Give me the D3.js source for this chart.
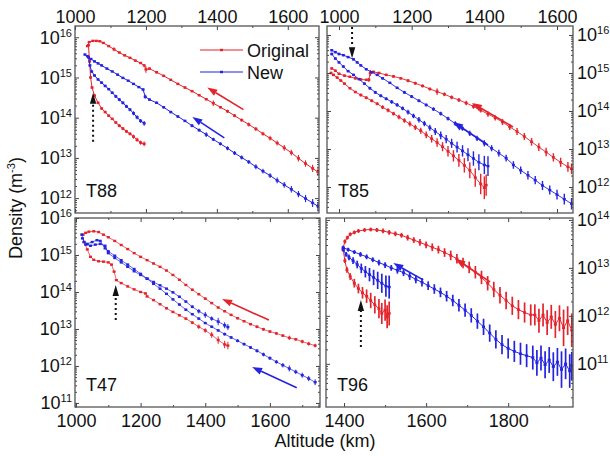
<!DOCTYPE html>
<html><head><meta charset="utf-8">
<script src="https://cdn.jsdelivr.net/npm/d3@7"></script>
<style>
body{margin:0;background:#fff}
svg{display:block}
text{font-family:Arial,"Liberation Sans",sans-serif;fill:#111}
</style>
</head><body>
<svg id="c" width="610" height="456"></svg>
<script>
// ---- DATA: each point = [altitude (km), log10 density (m^-3), error (decades)] ----
// T88
const t88Orig1 = [[1035,15.78,.02],[1040,15.88,.02],[1050,15.91,.02],[1060,15.91,.02],[1070,15.90,.02],[1080,15.86,.02],[1095,15.78,.02],[1110,15.70,.05],[1125,15.62,.02],[1140,15.55,.02],[1155,15.49,.02],[1170,15.42,.02],[1185,15.36,.02],[1195,15.30,.03],[1200,15.20,.08],[1210,15.22,.03],[1230,15.13,.03],[1250,15.04,.03],[1270,14.94,.03],[1290,14.84,.03],[1310,14.75,.03],[1330,14.66,.03],[1350,14.56,.03],[1370,14.46,.03],[1390,14.36,.07],[1410,14.26,.03],[1430,14.16,.04],[1450,14.05,.04],[1470,13.94,.04],[1490,13.83,.05],[1510,13.72,.05],[1530,13.60,.05],[1550,13.49,.06],[1570,13.37,.06],[1590,13.25,.07],[1610,13.13,.07],[1630,12.99,.08],[1650,12.86,.08],[1670,12.74,.09],[1685,12.65,.1]];
const t88Orig2 = [[1038,15.80,.02],[1041,15.40,.02],[1044,15.00,.03],[1048,14.75,.03],[1055,14.55,.03],[1065,14.37,.03],[1075,14.23,.03],[1085,14.14,.03],[1095,14.05,.03],[1105,13.97,.03],[1115,13.88,.04],[1125,13.80,.04],[1135,13.73,.04],[1145,13.66,.04],[1155,13.60,.04],[1165,13.53,.05],[1175,13.45,.05],[1185,13.38,.05],[1195,13.35,.06]];
const t88New1 = [[1028,15.57,.02],[1035,15.53,.02],[1045,15.46,.02],[1055,15.40,.02],[1065,15.35,.02],[1075,15.30,.02],[1090,15.22,.02],[1105,15.15,.02],[1120,15.07,.02],[1135,14.99,.02],[1150,14.92,.02],[1165,14.84,.02],[1180,14.76,.02],[1192,14.70,.03],[1198,14.52,.05],[1210,14.45,.03],[1230,14.37,.03],[1250,14.26,.03],[1270,14.14,.03],[1290,14.03,.03],[1310,13.92,.03],[1330,13.80,.04],[1350,13.69,.04],[1370,13.58,.06],[1390,13.46,.04],[1410,13.35,.04],[1430,13.24,.05],[1450,13.12,.05],[1470,13.01,.05],[1490,12.90,.05],[1510,12.78,.06],[1530,12.67,.06],[1550,12.56,.06],[1570,12.44,.07],[1590,12.33,.07],[1610,12.22,.08],[1630,12.10,.08],[1650,11.99,.09],[1670,11.88,.1],[1685,11.80,.1]];
const t88New2 = [[1038,15.50,.02],[1042,15.30,.02],[1047,15.15,.03],[1055,15.05,.03],[1065,14.95,.03],[1075,14.87,.03],[1085,14.79,.03],[1095,14.71,.03],[1105,14.62,.03],[1115,14.53,.04],[1125,14.45,.04],[1135,14.37,.04],[1145,14.28,.04],[1155,14.20,.04],[1165,14.11,.05],[1175,14.01,.05],[1185,13.92,.05],[1195,13.86,.06]];
// T85
const t85Orig1 = [[980,15.12,.03],[990,15.06,.03],[1000,14.98,.03],[1015,14.93,.03],[1030,14.90,.03],[1045,14.86,.03],[1060,14.83,.03],[1075,14.82,.03],[1082,14.82,.05],[1086,15.00,.08],[1095,15.03,.03],[1110,15.00,.03],[1130,14.95,.03],[1150,14.91,.03],[1170,14.86,.03],[1190,14.80,.04],[1210,14.73,.04],[1230,14.66,.04],[1250,14.58,.04],[1270,14.51,.08],[1290,14.44,.05],[1310,14.36,.05],[1330,14.29,.05],[1350,14.21,.06],[1370,14.12,.06],[1390,14.02,.06],[1410,13.92,.07],[1430,13.82,.07],[1450,13.71,.08],[1470,13.58,.08],[1490,13.46,.09],[1510,13.33,.09],[1530,13.19,.1],[1550,13.05,.1],[1570,12.92,.11],[1590,12.78,.11],[1610,12.65,.12],[1630,12.53,.13],[1640,12.48,.14]];
const t85Orig2 = [[978,15.00,.03],[985,14.95,.03],[995,14.88,.03],[1005,14.80,.03],[1015,14.72,.03],[1030,14.60,.03],[1045,14.50,.03],[1060,14.42,.04],[1075,14.35,.04],[1090,14.27,.04],[1105,14.19,.04],[1120,14.10,.05],[1135,14.02,.05],[1150,13.93,.05],[1165,13.84,.06],[1180,13.75,.06],[1195,13.66,.07],[1210,13.57,.07],[1225,13.48,.08],[1240,13.37,.09],[1255,13.27,.1],[1270,13.17,.11],[1285,13.06,.12],[1300,12.94,.14],[1315,12.82,.15],[1330,12.70,.17],[1345,12.57,.19],[1360,12.44,.21],[1375,12.25,.24],[1390,12.08,.27],[1400,11.98,.3],[1405,12.05,.28]];
const t85New1 = [[980,15.60,.03],[990,15.55,.03],[1000,15.50,.03],[1012,15.47,.03],[1025,15.42,.03],[1040,15.36,.03],[1050,15.28,.03],[1060,15.20,.03],[1075,15.10,.03],[1090,15.02,.03],[1105,14.95,.03],[1120,14.86,.03],[1140,14.74,.03],[1160,14.61,.03],[1180,14.49,.04],[1200,14.38,.04],[1220,14.27,.04],[1240,14.16,.04],[1260,14.05,.05],[1280,13.93,.05],[1300,13.80,.05],[1320,13.67,.06],[1340,13.54,.06],[1360,13.41,.07],[1380,13.28,.07],[1400,13.15,.08],[1420,13.02,.08],[1440,12.89,.09],[1460,12.76,.09],[1480,12.58,.1],[1500,12.44,.1],[1520,12.31,.11],[1540,12.18,.11],[1560,12.04,.12],[1580,11.92,.12],[1600,11.80,.13],[1620,11.68,.14],[1640,11.56,.15]];
const t85New2 = [[980,15.50,.03],[990,15.38,.03],[1000,15.28,.03],[1012,15.17,.03],[1025,15.05,.03],[1040,14.95,.03],[1055,14.84,.03],[1070,14.72,.03],[1085,14.60,.04],[1100,14.49,.04],[1115,14.40,.04],[1130,14.32,.04],[1145,14.24,.05],[1160,14.16,.05],[1175,14.07,.05],[1190,13.97,.06],[1205,13.87,.06],[1220,13.77,.07],[1235,13.67,.07],[1250,13.56,.08],[1265,13.46,.09],[1280,13.36,.1],[1295,13.26,.11],[1310,13.15,.12],[1325,13.05,.14],[1340,12.95,.15],[1355,12.85,.17],[1370,12.75,.19],[1385,12.65,.21],[1400,12.58,.24],[1410,12.55,.26]];
// T47
const t47Orig1 = [[1022,15.55,.02],[1030,15.60,.02],[1040,15.63,.02],[1055,15.64,.02],[1070,15.62,.02],[1085,15.55,.02],[1100,15.48,.02],[1120,15.38,.02],[1140,15.27,.02],[1160,15.16,.02],[1180,15.05,.02],[1200,14.95,.02],[1220,14.86,.02],[1240,14.77,.02],[1260,14.68,.02],[1280,14.58,.02],[1300,14.46,.02],[1320,14.33,.02],[1340,14.19,.02],[1360,14.06,.03],[1380,13.94,.03],[1400,13.82,.03],[1420,13.70,.03],[1440,13.58,.03],[1460,13.48,.03],[1480,13.38,.03],[1500,13.29,.03],[1520,13.21,.03],[1540,13.13,.03],[1560,13.06,.04],[1580,12.99,.04],[1600,12.93,.04],[1620,12.88,.04],[1640,12.82,.04],[1660,12.76,.06],[1680,12.72,.04],[1700,12.66,.05],[1720,12.60,.05],[1740,12.55,.05]];
const t47Orig2 = [[1025,15.35,.02],[1035,15.15,.02],[1045,14.95,.02],[1055,14.87,.02],[1070,14.83,.02],[1085,14.82,.02],[1100,14.80,.02],[1110,14.74,.02],[1118,14.55,.02],[1125,14.32,.02],[1140,14.24,.02],[1160,14.15,.02],[1180,14.07,.02],[1200,14.00,.02],[1215,13.96,.02],[1220,13.88,.02],[1240,13.78,.02],[1260,13.67,.03],[1280,13.56,.03],[1300,13.46,.03],[1320,13.37,.03],[1340,13.28,.03],[1360,13.17,.04],[1380,13.06,.06],[1400,12.96,.06],[1420,12.84,.08],[1440,12.70,.1],[1460,12.58,.1],[1470,12.55,.1]];
const t47New1 = [[1018,15.55,.02],[1025,15.35,.02],[1035,15.30,.02],[1050,15.35,.02],[1065,15.40,.02],[1075,15.38,.02],[1090,15.18,.02],[1100,15.10,.02],[1120,14.98,.02],[1140,14.86,.02],[1160,14.74,.02],[1180,14.62,.02],[1200,14.49,.02],[1220,14.36,.02],[1240,14.22,.02],[1260,14.09,.02],[1280,13.95,.02],[1300,13.80,.03],[1320,13.66,.03],[1340,13.52,.03],[1360,13.40,.03],[1380,13.28,.03],[1400,13.16,.03],[1420,13.06,.03],[1440,12.96,.03],[1460,12.86,.04],[1480,12.77,.04],[1500,12.68,.04],[1520,12.59,.04],[1540,12.50,.04],[1560,12.41,.05],[1580,12.31,.05],[1600,12.21,.05],[1620,12.11,.05],[1640,12.02,.06],[1660,11.93,.08],[1680,11.84,.06],[1700,11.75,.07],[1720,11.66,.07],[1740,11.56,.08]];
const t47New2 = [[1020,15.45,.02],[1030,15.28,.02],[1045,15.25,.02],[1060,15.28,.02],[1075,15.30,.02],[1090,15.25,.02],[1100,15.05,.02],[1120,14.92,.02],[1140,14.80,.02],[1160,14.68,.02],[1180,14.56,.02],[1200,14.46,.02],[1220,14.36,.02],[1240,14.27,.02],[1260,14.18,.02],[1280,14.09,.02],[1300,13.99,.03],[1320,13.87,.03],[1340,13.74,.03],[1360,13.60,.04],[1380,13.48,.06],[1400,13.38,.08],[1420,13.28,.06],[1440,13.20,.1],[1460,13.10,.08],[1470,13.05,.08]];
// T96
const t96Orig1 = [[1398,13.42,.04],[1402,13.55,.04],[1408,13.63,.04],[1415,13.70,.04],[1425,13.74,.04],[1435,13.77,.04],[1450,13.79,.04],[1465,13.80,.04],[1480,13.79,.04],[1495,13.77,.05],[1510,13.74,.05],[1525,13.71,.05],[1540,13.68,.05],[1555,13.63,.06],[1570,13.58,.06],[1585,13.53,.07],[1600,13.48,.07],[1615,13.43,.08],[1630,13.38,.08],[1645,13.32,.09],[1660,13.26,.1],[1675,13.19,.1],[1690,13.10,.11],[1705,13.01,.12],[1720,12.91,.13],[1735,12.80,.14],[1750,12.68,.15],[1765,12.55,.16],[1780,12.43,.17],[1795,12.32,.18],[1810,12.21,.19],[1825,12.13,.2],[1840,12.07,.21],[1855,12.02,.22],[1865,12.02,.22],[1875,11.90,.25],[1885,12.02,.24],[1895,11.86,.26],[1905,11.98,.25],[1915,11.82,.28],[1925,11.95,.27],[1935,11.75,.38],[1945,11.90,.3],[1955,11.70,.35]];
const t96Orig2 = [[1398,13.38,.04],[1402,13.15,.05],[1407,12.96,.06],[1415,12.82,.07],[1425,12.68,.09],[1435,12.57,.1],[1445,12.48,.12],[1455,12.41,.14],[1465,12.32,.16],[1475,12.23,.18],[1485,12.15,.2],[1492,12.05,.22],[1500,12.12,.22],[1505,11.98,.24],[1510,12.05,.25]];
const t96New1 = [[1398,13.42,.04],[1410,13.38,.04],[1425,13.33,.04],[1440,13.28,.05],[1455,13.23,.05],[1470,13.17,.05],[1485,13.11,.06],[1500,13.06,.06],[1515,13.00,.06],[1530,12.95,.07],[1545,12.90,.07],[1560,12.83,.08],[1575,12.76,.08],[1590,12.70,.09],[1605,12.63,.09],[1620,12.56,.1],[1635,12.49,.1],[1650,12.41,.11],[1665,12.32,.12],[1680,12.22,.13],[1695,12.12,.14],[1710,12.01,.15],[1725,11.89,.16],[1740,11.77,.17],[1755,11.64,.18],[1770,11.51,.19],[1785,11.40,.2],[1800,11.32,.21],[1815,11.26,.22],[1830,11.21,.23],[1845,11.17,.24],[1860,11.13,.25],[1870,11.02,.27],[1880,11.12,.26],[1890,10.98,.28],[1900,11.08,.27],[1910,10.94,.3],[1920,11.04,.29],[1930,10.88,.38],[1940,11.00,.32],[1950,10.85,.35],[1955,10.95,.3]];
const t96New2 = [[1398,13.38,.04],[1405,13.28,.05],[1412,13.22,.06],[1422,13.15,.07],[1432,13.07,.08],[1442,12.99,.1],[1452,12.92,.12],[1462,12.86,.14],[1472,12.80,.16],[1482,12.74,.18],[1492,12.68,.2],[1502,12.62,.22],[1510,12.60,.24]];

const panelNames = ["T88","T85","T47","T96"];
const seriesNames = ["Original","New"];
// direction arrows [x1, log y1, x2, log y2] (tail -> head) and closest-approach markers [x, log y tail, log y tip]
const t88Arrows = {red:[1475,14.20,1373,14.75], blue:[1421,13.50,1331,14.02], ca:[1051,13.40,14.62]};
const t85Arrows = {red:[1479,13.58,1366,14.21], blue:[1410,13.11,1314,13.71], ca:[1036,16.21,15.39]};
const t47Arrows = {red:[1597,13.24,1452,13.81], blue:[1683,11.41,1545,11.97], ca:[1123,13.24,14.19]};
const t96Arrows = {red:[1756,12.71,1671,13.19], blue:[1593,12.75,1520,13.10], ca:[1441,11.35,12.33]};

// ---- LAYOUT ----
const RED = "#e4232b", BLUE = "#2323e0";
const panels = [
  {name:panelNames[0], x0:75,  x1:319, y0:26,  y1:213, xDom:[1000,1688], yDom:[11.63,16.28], xSide:"top",    ySide:"left",
   orig:[t88Orig1,t88Orig2], neu:[t88New1,t88New2], arrows:t88Arrows, lw:1, ew:1.1},
  {name:panelNames[1], x0:327, x1:573, y0:26,  y1:213, xDom:[967,1644],  yDom:[11.316,16.237], xSide:"top", ySide:"right",
   orig:[t85Orig1,t85Orig2], neu:[t85New1,t85New2], arrows:t85Arrows, lw:0.9, ew:1.4},
  {name:panelNames[2], x0:75,  x1:320, y0:218, y1:407, xDom:[997,1755],  yDom:[10.89,16.0], xSide:"bottom",  ySide:"left",
   orig:[t47Orig1,t47Orig2], neu:[t47New1,t47New2], arrows:t47Arrows, lw:0.7, ew:1},
  {name:panelNames[3], x0:326, x1:573, y0:218, y1:407, xDom:[1356,1958], yDom:[10.1,14.04], xSide:"bottom",  ySide:"right",
   orig:[t96Orig1,t96Orig2], neu:[t96New1,t96New2], arrows:t96Arrows, lw:1, ew:1.7}
];

const svg = d3.select("#c");
const defs = svg.append("defs");

function supLabel(sel){
  sel.each(function(d){
    const t = d3.select(this);
    const e = Math.round(Math.log10(d));
    t.text(null);
    t.append("tspan").text("10");
    t.append("tspan").attr("font-size",11).attr("dy","-0.62em").text(e);
  });
}

panels.forEach((p,i) => {
  const x = d3.scaleLinear().domain(p.xDom).range([p.x0,p.x1]);
  const y = d3.scaleLog().domain([10**p.yDom[0],10**p.yDom[1]]).range([p.y1,p.y0]);
  const g = svg.append("g");
  const cid = "clip"+i;
  defs.append("clipPath").attr("id",cid).append("rect")
    .attr("x",p.x0).attr("y",p.y0).attr("width",p.x1-p.x0).attr("height",p.y1-p.y0);
  const plot = g.append("g").attr("clip-path",`url(#${cid})`);
  const line = d3.line().x(d=>x(d[0])).y(d=>y(10**d[1]));

  const groups = [[p.orig,RED],[p.neu,BLUE]];
  groups.forEach(([arr,col]) => {
    arr.forEach(s => {
      plot.append("path").attr("d",line(s)).attr("fill","none").attr("stroke",col).attr("stroke-width",p.lw);
      plot.selectAll(null).data(s).join("line")
        .attr("x1",d=>x(d[0])).attr("x2",d=>x(d[0]))
        .attr("y1",d=>y(10**(d[1]-d[2]))).attr("y2",d=>y(10**(d[1]+d[2])))
        .attr("stroke",col).attr("stroke-width",p.ew);
      plot.selectAll(null).data(s).join("rect")
        .attr("x",d=>x(d[0])-1.5).attr("y",d=>y(10**d[1])-1.2)
        .attr("width",3).attr("height",2.4).attr("fill",col);
    });
  });

  // direction arrows
  const A = p.arrows;
  [[A.red,RED],[A.blue,BLUE]].forEach(([a,col]) => {
    const X1=x(a[0]),Y1=y(10**a[1]),X2=x(a[2]),Y2=y(10**a[3]);
    const ang=Math.atan2(Y2-Y1,X2-X1), L=10, W=3.5;
    const bx=X2-L*Math.cos(ang), by=Y2-L*Math.sin(ang);
    g.append("line").attr("x1",X1).attr("y1",Y1).attr("x2",bx).attr("y2",by).attr("stroke",col).attr("stroke-width",1.6);
    g.append("path").attr("fill",col).attr("d",
      `M${X2},${Y2}L${bx+W*Math.sin(ang)},${by-W*Math.cos(ang)}L${bx-W*Math.sin(ang)},${by+W*Math.cos(ang)}Z`);
  });
  // closest-approach dotted arrow
  {
    const cx=x(A.ca[0]), ya=y(10**A.ca[1]), yb=y(10**A.ca[2]);
    const dir = yb<ya ? -1 : 1, L=11, W=3.2;
    const base = yb - dir*L;
    g.append("line").attr("x1",cx).attr("x2",cx).attr("y1",ya).attr("y2",base)
      .attr("stroke","#111").attr("stroke-width",2).attr("stroke-dasharray","2,3");
    g.append("path").attr("fill","#111").attr("d",`M${cx},${yb}L${cx-W},${base}L${cx+W},${base}Z`);
  }

  // axes (inward ticks)
  const xMaj=[], xMin=[];
  for(let v=Math.ceil(p.xDom[0]/100)*100; v<=p.xDom[1]; v+=100){ (v%200===0?xMaj:xMin).push(v); }
  const yMaj=[], yMin=[];
  for(let n=Math.floor(p.yDom[0]); n<=Math.ceil(p.yDom[1]); n++){
    if(n>=p.yDom[0]-1e-9 && n<=p.yDom[1]+1e-9) yMaj.push(10**n);
    for(let k=2;k<10;k++){ const lv=n+Math.log10(k); if(lv>p.yDom[0]&&lv<p.yDom[1]) yMin.push(k*10**n); }
  }
  const ax = g.append("g");
  const mk = (gen, pos, vals, size, fmt) => {
    const a = ax.append("g").attr("transform",pos)
      .call(gen.tickValues(vals).tickSizeInner(size).tickSizeOuter(0).tickFormat(fmt));
    a.attr("font-family","Arial, 'Liberation Sans', sans-serif");
    a.select(".domain").remove();
    a.selectAll(".tick line").attr("stroke","#444").attr("stroke-width",1);
    return a;
  };
  const none = () => "";
  const topG = mk(d3.axisTop(x).tickPadding(3.5), `translate(0,${p.y0})`, xMaj, -4, p.xSide==="top"?d3.format("d"):none);
  mk(d3.axisTop(x), `translate(0,${p.y0})`, xMin, -2, none);
  const botG = mk(d3.axisBottom(x).tickPadding(7), `translate(0,${p.y1})`, xMaj, -4, p.xSide==="bottom"?d3.format("d"):none);
  mk(d3.axisBottom(x), `translate(0,${p.y1})`, xMin, -2, none);
  const leftG = mk(d3.axisLeft(y).tickPadding(3), `translate(${p.x0},0)`, yMaj, -4, p.ySide==="left"?(d=>"x"):none);
  mk(d3.axisLeft(y), `translate(${p.x0},0)`, yMin, -2, none);
  const rightG = mk(d3.axisRight(y).tickPadding(4), `translate(${p.x1},0)`, yMaj, -4, p.ySide==="right"?(d=>"x"):none);
  mk(d3.axisRight(y), `translate(${p.x1},0)`, yMin, -2, none);
  [topG,botG,leftG,rightG].forEach(a=>a.selectAll("text").attr("font-size",18).attr("fill","#111"));
  if(p.ySide==="left") leftG.selectAll(".tick text").call(supLabel);
  else rightG.selectAll(".tick text").call(supLabel);

  // frame
  g.append("rect").attr("x",p.x0).attr("y",p.y0).attr("width",p.x1-p.x0).attr("height",p.y1-p.y0)
    .attr("fill","none").attr("stroke","#555").attr("stroke-width",1.3);

  // panel name
  g.append("text").attr("x",p.x0+11).attr("y",p.y1-16).attr("font-size",18).text(p.name);

  // legend (first panel)
  if(i===0){
    const lg = g.append("g");
    [[RED,seriesNames[0],50],[BLUE,seriesNames[1],72]].forEach(([c,t,yy])=>{
      lg.append("line").attr("x1",200).attr("x2",243).attr("y1",yy).attr("y2",yy).attr("stroke",c).attr("stroke-width",1.2);
      lg.append("rect").attr("x",220).attr("y",yy-1.2).attr("width",3).attr("height",2.4).attr("fill",c);
      lg.append("text").attr("x",247).attr("y",yy+6.5).attr("font-size",18).text(t);
    });
  }
});

// axis titles
svg.append("text").attr("x",325).attr("y",447).attr("text-anchor","middle").attr("font-size",18).text("Altitude (km)");
const yt = svg.append("text").attr("transform","translate(22,208) rotate(-90)").attr("text-anchor","middle").attr("font-size",18);
yt.append("tspan").text("Density (m");
yt.append("tspan").attr("font-size",11).attr("dy","-0.62em").text("-3");
yt.append("tspan").attr("dy","0.4em").text(")");
</script>
</body></html>
